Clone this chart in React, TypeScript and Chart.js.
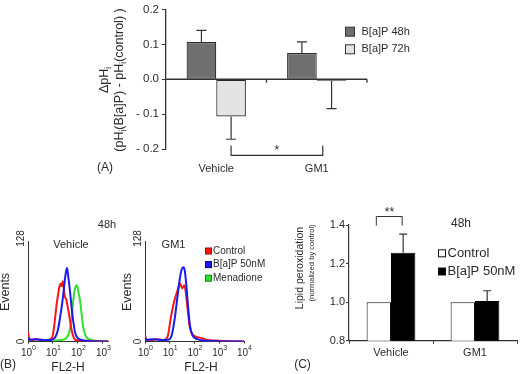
import React, { useEffect, useRef } from 'react';
import { Chart, registerables } from 'chart.js';

Chart.register(...registerables);

const FONT = "'Liberation Sans', Arial, Helvetica, sans-serif";
const TXT = '#2b2b2b';
const AX = '#333333';

// ---------- Panel A: delta pHi ----------
const phGroups = ['Vehicle', 'GM1'];
const ph48 = [0.107, 0.075];
const ph48Err = [0.033, 0.032];
const ph72 = [-0.107, -0.004];
const ph72Err = [0.065, 0.08];
const phSeriesNames = ['B[a]P 48h', 'B[a]P 72h'];
const phColors = ['#6f6f6f', '#e4e4e4'];

// ---------- Panel B: flow cytometry histograms (FL2-H, events) ----------
const decadeTicks = [1, 10, 100, 1000, 10000];
const vehicleControl = [[1, 12], [1.15, 3], [1.6, 2], [2.5, 3], [4, 2], [6, 2], [8, 3], [9.5, 6], [11, 18], [12.6, 35], [14, 48], [16, 60], [18, 70], [20, 74], [22, 71], [24.5, 77], [27, 68], [30, 57], [33, 55], [36, 50], [41, 40], [48, 27], [56, 14], [66, 6], [80, 2], [160, 1], [1600, 0]];
const vehicleBap = [[1, 5], [1.2, 2], [2, 3], [3, 2], [5, 2], [8, 2], [10, 3], [12.6, 6], [15.8, 15], [19, 30], [22.4, 45], [25.7, 60], [30, 80], [34, 91], [36.3, 94], [40, 85], [45, 72], [50, 58], [56, 42], [65, 25], [76, 12], [89, 6], [112, 3], [200, 1], [1600, 0]];
const vehicleMenadione = [[10, 1], [20, 2], [30, 3], [35.5, 5], [40, 8], [45, 12], [50, 20], [56, 30], [60, 42], [65, 53], [70, 62], [76, 68], [89, 72], [102, 65], [120, 53], [141, 34], [162, 18], [204, 7], [275, 3], [500, 1], [1600, 0]];
const gm1Control = [[1, 8], [1.15, 2], [2, 2], [3, 3], [5, 2], [7, 3], [8.5, 8], [11, 30], [15, 51], [21, 66], [25.7, 74.5], [31.6, 68], [39, 72], [44.7, 62], [50, 48], [56, 34], [65, 18], [89, 8], [158, 5], [350, 2], [1000, 1], [10000, 0]];
const gm1Bap = [[1, 5], [1.2, 2], [2, 3], [4, 2], [7, 2], [10, 3], [12, 8], [16, 30], [21, 60], [25.7, 81], [30, 91.5], [36.3, 95], [40.7, 90], [48, 68], [56, 42], [65, 21], [83, 8], [126, 3], [316, 1], [10000, 0]];
const histNames = ['Control', 'B[a]P 50nM', 'Menadione'];
const histColors = ['#ff1414', '#1a1af0', '#2fe02f'];
const histLegendBorders = ['#a00000', '#00007a', '#108010'];

// ---------- Panel C: lipid peroxidation ----------
const lipidGroups = ['Vehicle', 'GM1'];
const lipidControl = [1.0, 1.0];
const lipidBap = [1.256, 1.006];
const lipidBapErr = [0.097, 0.053];
const lipidNames = ['Control', 'B[a]P 50nM'];

function txt(ctx: any, s: string, x: number, y: number, size: number, o: any = {}) {
  ctx.save();
  ctx.font = `${size}px ${FONT}`;
  ctx.fillStyle = o.color || TXT;
  ctx.textAlign = o.align || 'center';
  ctx.textBaseline = o.baseline || 'middle';
  if (o.rotate) {
    ctx.translate(x, y);
    ctx.rotate(-Math.PI / 2);
    ctx.fillText(s, 0, 0);
  } else {
    ctx.fillText(s, x, y);
  }
  ctx.restore();
}

function rich(ctx: any, segs: any[], x: number, y: number, size: number, rotate: boolean) {
  ctx.save();
  ctx.translate(x, y);
  if (rotate) ctx.rotate(-Math.PI / 2);
  ctx.fillStyle = TXT;
  ctx.textBaseline = 'middle';
  ctx.textAlign = 'left';
  const widths = segs.map(([t, sub]) => {
    ctx.font = `${sub ? size * 0.68 : size}px ${FONT}`;
    return ctx.measureText(t).width;
  });
  const total = widths.reduce((a: number, b: number) => a + b, 0);
  let cx = -total / 2;
  segs.forEach(([t, sub], i) => {
    ctx.font = `${sub ? size * 0.68 : size}px ${FONT}`;
    ctx.fillText(t, cx, sub ? size * 0.33 : 0);
    cx += widths[i];
  });
  ctx.restore();
}

function drawErrors(chart: any, dsIndex: number, errs: number[], cap: number) {
  const ctx = chart.ctx;
  const ys = chart.scales.y;
  const meta = chart.getDatasetMeta(dsIndex);
  const vals = chart.data.datasets[dsIndex].data;
  ctx.save();
  ctx.strokeStyle = AX;
  ctx.lineWidth = 1.2;
  meta.data.forEach((bar: any, i: number) => {
    const e = errs[i];
    if (!e) return;
    const v = vals[i];
    const end = v >= 0 ? v + e : v - e;
    const y0 = ys.getPixelForValue(v);
    const y1 = ys.getPixelForValue(end);
    ctx.beginPath();
    ctx.moveTo(bar.x, y0);
    ctx.lineTo(bar.x, y1);
    ctx.moveTo(bar.x - cap / 2, y1);
    ctx.lineTo(bar.x + cap / 2, y1);
    ctx.stroke();
  });
  ctx.restore();
}

function fixWidth(w: number) {
  return (scale: any) => {
    scale.width = w;
    scale.paddingTop = 0;
    scale.paddingBottom = 0;
  };
}
function fixHeight(h: number) {
  return (scale: any) => {
    scale.height = h;
    scale.paddingLeft = 0;
    scale.paddingRight = 0;
  };
}

const extrasA = {
  id: 'extrasA',
  afterDatasetsDraw(chart: any) {
    const { ctx, chartArea, scales } = chart;
    const xs = scales.x;
    const ys = scales.y;
    ctx.save();
    const y0 = ys.getPixelForValue(0);
    ctx.strokeStyle = AX;
    ctx.lineWidth = 1.3;
    ctx.beginPath();
    ctx.moveTo(chartArea.left, y0);
    ctx.lineTo(chartArea.right, y0);
    const cw = (chartArea.right - chartArea.left) / phGroups.length;
    for (let i = 1; i <= phGroups.length; i++) {
      const x = chartArea.left + i * cw;
      ctx.moveTo(x, y0);
      ctx.lineTo(x, y0 + 3.5);
    }
    ctx.stroke();
    ctx.restore();

    drawErrors(chart, 0, ph48Err, 10);
    drawErrors(chart, 1, ph72Err, 10);

    // significance bracket
    const bl = chart.getDatasetMeta(1).data[0];
    const xl = bl.x;
    const xr = xs.getPixelForValue(1) + 6;
    const yt = ys.getPixelForValue(-0.19);
    const yb = ys.getPixelForValue(-0.218);
    ctx.save();
    ctx.strokeStyle = AX;
    ctx.lineWidth = 1.2;
    ctx.beginPath();
    ctx.moveTo(xl, yt);
    ctx.lineTo(xl, yb);
    ctx.lineTo(xr, yb);
    ctx.lineTo(xr, yt);
    ctx.stroke();
    ctx.restore();
    txt(ctx, '*', (xl + xr) / 2, yb - 1, 12, { baseline: 'alphabetic' });

    // legend
    phSeriesNames.forEach((n, i) => {
      const cy = 31.7 + i * 17.6;
      ctx.save();
      ctx.fillStyle = phColors[i];
      ctx.strokeStyle = AX;
      ctx.lineWidth = 1;
      ctx.fillRect(345.5, cy - 4.5, 9, 9);
      ctx.strokeRect(345.5, cy - 4.5, 9, 9);
      ctx.restore();
      txt(ctx, n, 361.5, cy, 11, { align: 'left' });
    });

    // y title
    rich(ctx, [['ΔpH', false], ['i', true]], 105, 80, 12.5, true);
    rich(ctx, [['(pH', false], ['i', true], ['(B[a]P) - pH', false], ['i', true], ['(control) )', false]], 119.5, 80, 12.5, true);
    txt(ctx, '(A)', 105, 168, 12);
  },
};

function makeHistExtras(id: string, title: string, titleX: number, eventsX: number, flX: number, withLegend: boolean, with48: boolean) {
  return {
    id,
    afterDraw(chart: any) {
      const { ctx, chartArea, scales } = chart;
      const xs = scales.x;
      decadeTicks.forEach((v, p) => {
        if (v > xs.max) return;
        const x = xs.getPixelForValue(v);
        ctx.save();
        ctx.fillStyle = TXT;
        ctx.textBaseline = 'alphabetic';
        ctx.textAlign = 'left';
        ctx.font = `10px ${FONT}`;
        const w1 = ctx.measureText('10').width;
        ctx.font = `7px ${FONT}`;
        const w2 = ctx.measureText(String(p)).width;
        const start = x - (w1 + w2) / 2 + 0.5;
        ctx.font = `10px ${FONT}`;
        ctx.fillText('10', start, 355.5);
        ctx.font = `7px ${FONT}`;
        ctx.fillText(String(p), start + w1, 350);
        ctx.restore();
      });
      const ax = chartArea.left;
      txt(ctx, '128', ax - 7, chartArea.top - 3, 10, { rotate: true });
      txt(ctx, '0', ax - 7, chartArea.bottom, 10, { rotate: true });
      txt(ctx, 'Events', eventsX, 292, 12.5, { rotate: true });
      txt(ctx, title, titleX, 245, 11);
      txt(ctx, 'FL2-H', flX, 368, 12);
      if (with48) {
        txt(ctx, '48h', 107, 225, 11);
        txt(ctx, '(B)', 0, 365, 12, { align: 'left' });
      }
      if (withLegend) {
        histNames.forEach((n, i) => {
          const cy = 251 + i * 13.6;
          ctx.save();
          ctx.fillStyle = histColors[i];
          ctx.strokeStyle = histLegendBorders[i];
          ctx.lineWidth = 1;
          ctx.fillRect(205.5, cy - 3, 6, 6);
          ctx.strokeRect(205.5, cy - 3, 6, 6);
          ctx.restore();
          txt(ctx, n, 213, cy, 10, { align: 'left' });
        });
      }
    },
  };
}

const extrasC = {
  id: 'extrasC',
  afterDatasetsDraw(chart: any) {
    const { ctx, scales } = chart;
    const ys = scales.y;
    drawErrors(chart, 1, lipidBapErr, 8);
    const b0 = chart.getDatasetMeta(0).data[0];
    const b1 = chart.getDatasetMeta(1).data[0];
    const yh = ys.getPixelForValue(1.444);
    const yl = ys.getPixelForValue(1.397);
    ctx.save();
    ctx.strokeStyle = AX;
    ctx.lineWidth = 1;
    ctx.beginPath();
    ctx.moveTo(b0.x - 2.5, yl);
    ctx.lineTo(b0.x - 2.5, yh);
    ctx.lineTo(b1.x - 1, yh);
    ctx.lineTo(b1.x - 1, yl);
    ctx.stroke();
    ctx.restore();
    txt(ctx, '**', (b0.x + b1.x) / 2 - 1.5, yh - 0.5, 12, { baseline: 'alphabetic' });
    txt(ctx, '48h', 461, 224, 12);
    lipidNames.forEach((n, i) => {
      const cy = 253.3 + i * 18.2;
      ctx.save();
      ctx.fillStyle = i === 0 ? '#ffffff' : '#000000';
      ctx.strokeStyle = '#111';
      ctx.lineWidth = 1;
      ctx.fillRect(438.5, cy - 3.5, 7, 7);
      ctx.strokeRect(438.5, cy - 3.5, 7, 7);
      ctx.restore();
      txt(ctx, n, 447.5, cy, 13, { align: 'left' });
    });
    txt(ctx, 'Lipid peroxidation', 300.5, 268, 10.5, { rotate: true });
    txt(ctx, '(normalized by control)', 311.5, 263, 7.6, { rotate: true });
    txt(ctx, '(C)', 302.5, 365, 12);
  },
};

function histConfig(series: any[], colors: string[], maxX: number, pad: any, extras: any) {
  return {
    type: 'line',
    data: {
      datasets: series.map((s, i) => ({
        data: s.map(([x, y]: number[]) => ({ x, y })),
        borderColor: colors[i],
        borderWidth: 2,
        pointRadius: 0,
        tension: 0.15,
        cubicInterpolationMode: 'monotone',
        fill: false,
        order: i === 1 ? 0 : i === 0 ? 1 : 2,
      })),
    },
    options: {
      responsive: false,
      animation: false,
      layout: { padding: pad },
      plugins: { legend: { display: false }, tooltip: { enabled: false } },
      scales: {
        x: {
          type: 'logarithmic',
          min: 1,
          max: maxX,
          afterBuildTicks: (scale: any) => {
            scale.ticks = decadeTicks.filter((v) => v <= maxX).map((v) => ({ value: v }));
          },
          afterFit: fixHeight(10),
          ticks: { display: false },
          grid: { display: true, drawOnChartArea: false, drawTicks: true, tickLength: 2, color: AX },
          border: { display: true, color: AX, width: 1 },
        },
        y: {
          min: 0,
          max: 128,
          afterFit: fixWidth(10),
          ticks: { display: false },
          grid: { display: false },
          border: { display: true, color: AX, width: 1 },
        },
      },
    },
    plugins: [extras],
  };
}

export default function App() {
  const refA = useRef<HTMLCanvasElement>(null);
  const refB1 = useRef<HTMLCanvasElement>(null);
  const refB2 = useRef<HTMLCanvasElement>(null);
  const refC = useRef<HTMLCanvasElement>(null);

  useEffect(() => {
    Chart.defaults.font.family = FONT;
    Chart.defaults.color = TXT;
    const charts: any[] = [];

    charts.push(new Chart(refA.current as any, {
      type: 'bar',
      data: {
        labels: phGroups,
        datasets: [
          { label: phSeriesNames[0], data: ph48, backgroundColor: phColors[0], borderColor: '#2a2a2a', borderWidth: 1.2, borderSkipped: false },
          { label: phSeriesNames[1], data: ph72, backgroundColor: phColors[1], borderColor: '#2a2a2a', borderWidth: 1.2, borderSkipped: false },
        ],
      },
      options: {
        responsive: false,
        animation: false,
        layout: { padding: { left: 106, right: 155, top: 9.5, bottom: 195 } },
        datasets: { bar: { categoryPercentage: 0.59, barPercentage: 1.0 } },
        plugins: { legend: { display: false }, tooltip: { enabled: false } },
        scales: {
          x: {
            afterFit: fixHeight(30),
            grid: { display: false, drawTicks: false },
            border: { display: false },
            ticks: { font: { size: 11 }, color: TXT, padding: 13 },
          },
          y: {
            min: -0.2,
            max: 0.2,
            afterFit: fixWidth(60),
            ticks: {
              stepSize: 0.1,
              font: { size: 11.5 },
              color: TXT,
              padding: 3,
              callback: (v: any) => (v < -1e-9 ? '- ' + Math.abs(v).toFixed(1) : Math.abs(v).toFixed(1)),
            },
            grid: { drawOnChartArea: false, drawTicks: true, tickLength: 4, color: AX },
            border: { display: true, color: AX, width: 1.3 },
          },
        },
      } as any,
      plugins: [extrasA],
    } as any));

    charts.push(new Chart(refB1.current as any, histConfig(
      [vehicleControl, vehicleBap, vehicleMenadione], histColors, 1585,
      { left: 18, right: 414, top: 241.5, bottom: 22.5 },
      makeHistExtras('extrasB1', 'Vehicle', 71, 6, 68, false, true),
    ) as any));

    charts.push(new Chart(refB2.current as any, histConfig(
      [gm1Control, gm1Bap], histColors, 10000,
      { left: 135, right: 278, top: 241.5, bottom: 22.5 },
      makeHistExtras('extrasB2', 'GM1', 173.5, 128, 201, true, false),
    ) as any));

    charts.push(new Chart(refC.current as any, {
      type: 'bar',
      data: {
        labels: lipidGroups,
        datasets: [
          { label: lipidNames[0], data: lipidControl, backgroundColor: '#ffffff', borderColor: '#111', borderWidth: 1, borderSkipped: false },
          { label: lipidNames[1], data: lipidBap, backgroundColor: '#000000', borderColor: '#000', borderWidth: 1, borderSkipped: false },
        ],
      },
      options: {
        responsive: false,
        animation: false,
        layout: { padding: { left: 309, right: 5, top: 225, bottom: 8.3 } },
        datasets: { bar: { categoryPercentage: 0.58, barPercentage: 1.0 } },
        plugins: { legend: { display: false }, tooltip: { enabled: false } },
        scales: {
          x: {
            afterFit: fixHeight(25),
            grid: { display: true, drawOnChartArea: false, drawTicks: true, tickLength: 3, offset: true, color: AX },
            border: { display: true, color: AX, width: 1.2 },
            ticks: { font: { size: 11 }, color: TXT, padding: 3 },
          },
          y: {
            min: 0.8,
            max: 1.4,
            afterFit: fixWidth(40),
            ticks: { stepSize: 0.2, font: { size: 11 }, color: TXT, padding: 1, callback: (v: any) => Number(v).toFixed(1) },
            grid: { drawOnChartArea: false, drawTicks: true, tickLength: 3, color: AX },
            border: { display: true, color: AX, width: 1.2 },
          },
        },
      } as any,
      plugins: [extrasC],
    } as any));

    return () => charts.forEach((c) => c.destroy());
  }, []);

  const cs: any = { position: 'absolute', left: 0, top: 0, width: 522, height: 374 };
  return (
    <div style={{ position: 'fixed', left: 0, top: 0, width: 522, height: 374, background: '#fff', overflow: 'hidden' }}>
      <canvas ref={refA} width={522} height={374} style={cs} />
      <canvas ref={refB1} width={522} height={374} style={cs} />
      <canvas ref={refB2} width={522} height={374} style={cs} />
      <canvas ref={refC} width={522} height={374} style={cs} />
    </div>
  );
}
